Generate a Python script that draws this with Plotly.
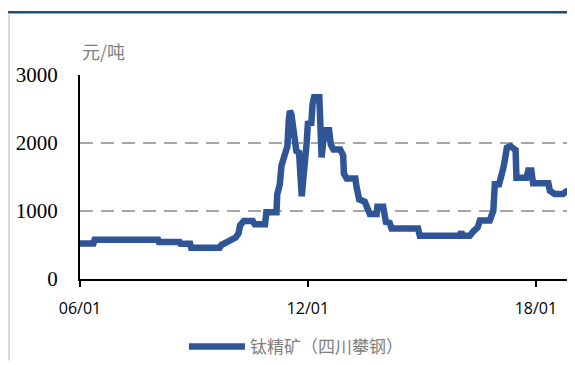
import plotly.graph_objects as go

dates = [
    "2006-01-01", "2006-05-10", "2006-05-22", "2008-01-22", "2008-01-30", "2008-08-15",
    "2008-08-25", "2008-11-25", "2008-12-05", "2009-09-05", "2009-09-20", "2009-11-05",
    "2009-12-25", "2010-02-05", "2010-03-05", "2010-03-20", "2010-04-25", "2010-07-20",
    "2010-08-08", "2010-11-15", "2010-11-28", "2011-03-05", "2011-03-12", "2011-04-05",
    "2011-04-22", "2011-05-25", "2011-06-18", "2011-07-01", "2011-07-12", "2011-07-26",
    "2011-08-18", "2011-09-12", "2011-10-08", "2011-10-15", "2011-11-03", "2011-11-18",
    "2011-12-05", "2011-12-20", "2012-01-01", "2012-02-03", "2012-02-15", "2012-03-01",
    "2012-04-20", "2012-04-28", "2012-05-12", "2012-05-26", "2012-06-20", "2012-07-23",
    "2012-08-08", "2012-09-02", "2012-11-06", "2012-12-05", "2012-12-12", "2013-01-08",
    "2013-04-01", "2013-04-12", "2013-05-08", "2013-07-01", "2013-07-20", "2013-08-18",
    "2013-10-23", "2013-10-30", "2013-12-25", "2014-01-20", "2014-02-25", "2014-03-15",
    "2014-11-25", "2014-12-12", "2016-01-01", "2016-01-15", "2016-01-27", "2016-04-05",
    "2016-05-08", "2016-06-20", "2016-07-12", "2016-10-15", "2016-11-18", "2016-12-02",
    "2017-01-12", "2017-01-26", "2017-02-20", "2017-03-10", "2017-03-28", "2017-05-01",
    "2017-06-20", "2017-06-28", "2017-10-01", "2017-10-20", "2017-11-18", "2017-12-05",
    "2018-05-01", "2018-05-15", "2018-07-01", "2018-09-20", "2018-10-23", "2019-02-05",
]
prices = [
    521, 521, 578, 578, 545, 545,
    517, 517, 460, 460, 500, 540,
    590, 610, 670, 790, 853, 853,
    806, 806, 981, 981, 1242, 1384,
    1668, 1834, 1953, 2332, 2474, 2426,
    2166, 1881, 1858, 1573, 1218, 1479,
    1976, 2000, 2284, 2294, 2569, 2673,
    2673, 2189, 1787, 2000, 2189, 2189,
    1976, 1905, 1905, 1820, 1550, 1479,
    1479, 1360, 1171, 1137, 1062, 957,
    957, 1062, 1062, 839, 825, 744,
    744, 635, 635, 697, 635, 635,
    697, 758, 862, 862, 1005, 1393,
    1393, 1526, 1621, 1763, 1929, 1953,
    1896, 1488, 1488, 1597, 1597, 1407,
    1407, 1298, 1251, 1251, 1289, 1289,
]
x_tick_vals = ["2006-01-01", "2012-01-01", "2018-01-01"]
x_tick_text = ["06/01", "12/01", "18/01"]
y_tick_vals = [0, 1000, 2000, 3000]
series_name = "钛精矿（四川攀钢）"
unit_label = "元/吨"

fig = go.Figure()
fig.add_trace(go.Scatter(
    x=dates, y=prices, mode="lines", name=series_name,
    line=dict(color="#2F5597", width=6.5),
))

fig.update_layout(
    width=567, height=357,
    margin=dict(l=72, r=0, t=67, b=81.5),
    paper_bgcolor="white", plot_bgcolor="white",
    showlegend=True,
    legend=dict(orientation="h", x=0.21, xanchor="left", y=-0.333, yanchor="middle",
                font=dict(family="Noto Sans CJK SC", size=17, color="#808080"),
                itemwidth=56, bgcolor="rgba(0,0,0,0)"),
    xaxis=dict(
        type="date", range=["2006-01-01", "2019-01-12"],
        tickvals=x_tick_vals, ticktext=x_tick_text,
        ticks="outside", ticklen=6, tickwidth=1.5, tickcolor="black",
        ticklabelstandoff=8,
        showline=True, linecolor="black", linewidth=2,
        showgrid=False, zeroline=False,
        tickfont=dict(family="Open Sans", size=16, color="black"),
    ),
    yaxis=dict(
        range=[0, 3000], tickvals=y_tick_vals,
        showline=True, linecolor="black", linewidth=2,
        showgrid=True, gridcolor="#a6a6a6", griddash="13px,8px", gridwidth=2,
        zeroline=False, ticks="", ticklabelstandoff=16,
        tickfont=dict(family="Liberation Serif", size=21, color="black"),
    ),
    annotations=[dict(
        text=unit_label, xref="paper", yref="paper", x=0, y=1.12,
        xanchor="left", yanchor="middle", showarrow=False,
        font=dict(family="Noto Sans CJK SC", size=18, color="#7f7f7f"),
    )],
    shapes=[
        dict(type="line", xref="paper", yref="paper", x0=-0.15, x1=1.0, y0=1.307, y1=1.307,
             line=dict(color="#1F4E79", width=2.5)),
        dict(type="line", xref="paper", yref="paper", x0=-0.1434, x1=-0.1434, y0=1.297, y1=-0.4,
             line=dict(color="#d9d9d9", width=2)),
    ],
)

fig.write_html("out.html")
